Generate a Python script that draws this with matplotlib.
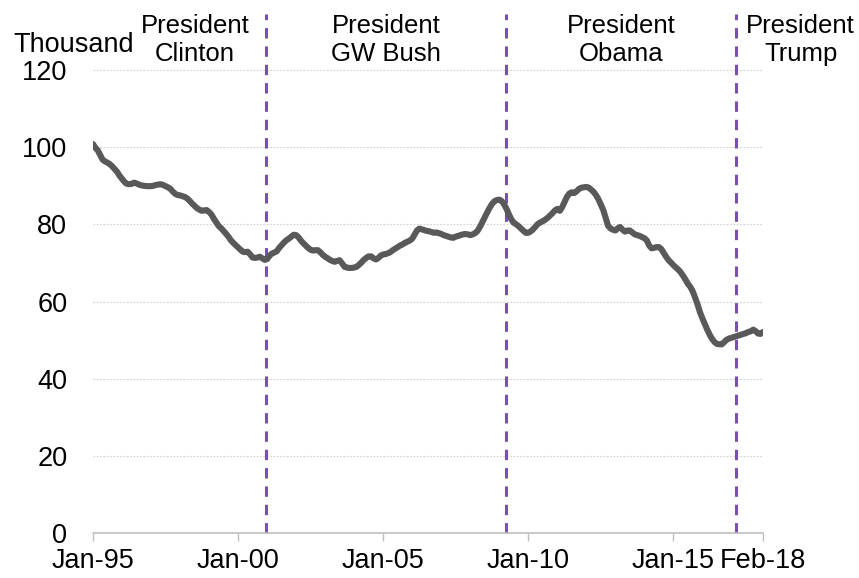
import matplotlib
matplotlib.use("Agg")
import matplotlib.pyplot as plt
import matplotlib.dates as mdates
import pandas as pd

plt.rcParams['font.family'] = ['Liberation Sans', 'DejaVu Sans']

# Monthly series, thousands, Jan-1995 .. Feb-2018
v1995 = [100.8, 99.8, 99.2, 98.0, 96.8, 96.3, 96.0, 95.6, 95.0, 94.3, 93.6, 92.6]
v1996 = [91.8, 91.0, 90.5, 90.4, 90.5, 90.8, 90.6, 90.3, 90.1, 90.0, 89.9, 89.9]
v1997 = [89.9, 90.0, 90.2, 90.3, 90.4, 90.2, 89.9, 89.6, 89.2, 88.5, 87.9, 87.6]
v1998 = [87.5, 87.3, 87.1, 86.7, 86.1, 85.4, 84.8, 84.2, 83.8, 83.5, 83.6, 83.7]
v1999 = [83.2, 82.5, 81.5, 80.5, 79.6, 79.0, 78.3, 77.6, 76.8, 75.9, 75.2, 74.6]
v2000 = [74.0, 73.4, 72.9, 72.8, 72.9, 72.2, 71.4, 71.3, 71.4, 71.6, 71.2, 70.8]
v2001 = [71.0, 71.9, 72.4, 72.7, 73.0, 73.9, 74.6, 75.3, 75.9, 76.3, 76.8, 77.3]
v2002 = [77.2, 76.6, 75.8, 75.1, 74.5, 73.9, 73.4, 73.2, 73.3, 73.3, 72.8, 72.1]
v2003 = [71.6, 71.2, 70.8, 70.5, 70.3, 70.5, 70.7, 69.9, 69.0, 68.8, 68.7, 68.7]
v2004 = [68.8, 69.0, 69.5, 70.1, 70.8, 71.3, 71.7, 71.7, 71.2, 70.9, 71.3, 71.9]
v2005 = [72.2, 72.3, 72.5, 72.8, 73.3, 73.7, 74.1, 74.5, 74.8, 75.2, 75.5, 75.8]
v2006 = [76.3, 77.4, 78.4, 78.9, 78.7, 78.5, 78.3, 78.2, 78.0, 77.8, 77.9, 77.7]
v2007 = [77.5, 77.2, 77.0, 76.8, 76.6, 76.5, 76.8, 77.0, 77.2, 77.4, 77.5, 77.4]
v2008 = [77.2, 77.4, 77.7, 78.3, 79.3, 80.6, 81.8, 83.1, 84.3, 85.3, 86.0, 86.3]
v2009 = [86.4, 86.0, 85.2, 84.0, 82.6, 81.3, 80.4, 80.0, 79.5, 78.9, 78.3, 77.8]
v2010 = [77.8, 78.2, 78.7, 79.4, 80.1, 80.5, 80.8, 81.2, 81.7, 82.3, 82.9, 83.6]
v2011 = [84.0, 83.5, 84.4, 85.8, 87.1, 88.0, 88.3, 88.1, 88.6, 89.2, 89.5, 89.6]
v2012 = [89.7, 89.5, 89.0, 88.4, 87.6, 86.5, 85.1, 83.7, 81.6, 79.6, 78.9, 78.6]
v2013 = [78.4, 79.0, 79.3, 78.6, 78.1, 78.4, 78.4, 77.9, 77.4, 77.2, 77.0, 76.7]
v2014 = [76.4, 75.8, 74.5, 73.8, 73.9, 74.1, 74.1, 73.6, 72.6, 71.6, 70.7, 70.1]
v2015 = [69.4, 68.8, 68.3, 67.6, 66.7, 65.7, 64.6, 63.8, 62.6, 61.0, 59.2, 57.2]
v2016 = [55.6, 54.1, 52.7, 51.4, 50.3, 49.5, 49.0, 48.9, 48.9, 49.5, 50.1, 50.4]
v2017 = [50.6, 50.8, 51.0, 51.2, 51.4, 51.6, 51.8, 52.1, 52.3, 52.7, 52.3, 51.7]
v2018 = [51.6, 52.1]

values = (v1995 + v1996 + v1997 + v1998 + v1999 + v2000 + v2001 + v2002
          + v2003 + v2004 + v2005 + v2006 + v2007 + v2008 + v2009 + v2010
          + v2011 + v2012 + v2013 + v2014 + v2015 + v2016 + v2017 + v2018)
months = pd.date_range('1995-01-01', periods=len(values), freq='MS')

tick_dates = pd.to_datetime(['1995-01-01', '2000-01-01', '2005-01-01',
                             '2010-01-01', '2015-01-01', '2018-02-01'])
tick_labels = ['Jan-95', 'Jan-00', 'Jan-05', 'Jan-10', 'Jan-15', 'Feb-18']
y_ticks = [0, 20, 40, 60, 80, 100, 120]

# Changes of administration and the term labels
transitions = pd.to_datetime(['2000-12-15', '2009-03-21', '2017-02-25'])
term_labels = ['President\nClinton', 'President\nGW Bush',
               'President\nObama', 'President\nTrump']
term_label_x = pd.to_datetime(['1998-07-07', '2005-02-03',
                               '2013-03-10', '2019-05-21'])

W, H = 859, 578
fig = plt.figure(figsize=(W / 100, H / 100), dpi=100)
ax = fig.add_axes([93 / W, 1 - 533 / H, (763 - 93) / W, (533 - 70) / H])

ax.plot(months, values, color='#595959', lw=4.4, solid_capstyle='round',
        solid_joinstyle='round', zorder=3)

ax.set_xlim(months[0], months[-1])
ax.set_ylim(0, 120)

for y in y_ticks[1:]:
    ax.axhline(y, color='#d0d0d0', lw=0.8, ls=(0, (1.5, 1.5)), zorder=1)

for d in transitions:
    ax.vlines(d, 0, 134.5, colors='#7A4FB0', lw=2.2, linestyles=(0, (3.4, 2.6)),
              clip_on=False, zorder=2)

for x, txt in zip(term_label_x, term_labels):
    ax.text(x, 134.5, txt, ha='center', va='top', fontsize=18.5,
            color='black', clip_on=False, linespacing=1.2)

fig.text(13 / W, 1 - 52 / H, 'Thousand', ha='left', va='baseline',
         fontsize=19.5, color='black')

ax.set_xticks(tick_dates)
ax.set_xticklabels(tick_labels)
ax.set_yticks(y_ticks)
ax.set_yticklabels([str(v) for v in y_ticks])

ax.tick_params(axis='x', direction='out', length=6, width=1, color='#bfbfbf',
               labelsize=19.5, pad=5, labelcolor='black')
ax.tick_params(axis='y', length=0, labelsize=19.5, pad=18.5, labelcolor='black')

for side in ['left', 'right', 'top']:
    ax.spines[side].set_visible(False)
ax.spines['bottom'].set_color('#bfbfbf')
ax.spines['bottom'].set_linewidth(1.2)

fig.savefig('out.png', dpi=100)
